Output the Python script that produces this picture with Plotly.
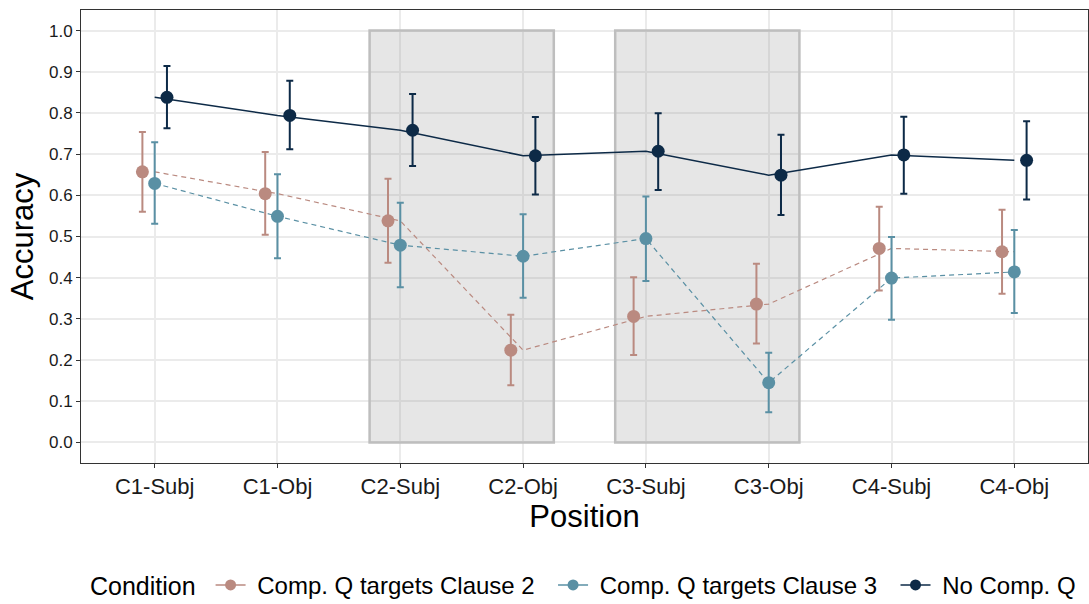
import plotly.graph_objects as go

positions = ["C1-Subj", "C1-Obj", "C2-Subj", "C2-Obj", "C3-Subj", "C3-Obj", "C4-Subj", "C4-Obj"]
conditions = ["Comp. Q targets Clause 2", "Comp. Q targets Clause 3", "No Comp. Q"]

clause2_mean = [0.657, 0.604, 0.538, 0.224, 0.306, 0.336, 0.471, 0.463]
clause2_low = [0.560, 0.504, 0.436, 0.139, 0.212, 0.240, 0.369, 0.361]
clause2_high = [0.754, 0.705, 0.640, 0.310, 0.401, 0.434, 0.572, 0.565]

clause3_mean = [0.629, 0.549, 0.479, 0.452, 0.495, 0.145, 0.399, 0.414]
clause3_low = [0.531, 0.447, 0.377, 0.351, 0.392, 0.073, 0.298, 0.314]
clause3_high = [0.729, 0.651, 0.582, 0.554, 0.597, 0.218, 0.499, 0.516]

nocomp_mean = [0.838, 0.794, 0.758, 0.696, 0.707, 0.649, 0.698, 0.685]
nocomp_low = [0.763, 0.712, 0.671, 0.602, 0.613, 0.552, 0.604, 0.590]
nocomp_high = [0.914, 0.878, 0.846, 0.790, 0.799, 0.747, 0.791, 0.780]

y_ticks = [0.0, 0.1, 0.2, 0.3, 0.4, 0.5, 0.6, 0.7, 0.8, 0.9, 1.0]
highlight_spans = [(2.75, 4.25), (4.75, 6.25)]

colors = ["#BA8A80", "#5A90A4", "#0D2A47"]
dashes = ["5px,4px", "5px,4px", "solid"]
line_widths = [1.2, 1.2, 1.5]
dodge = [-0.1, 0.0, 0.1]

series = [
    (clause2_mean, clause2_low, clause2_high),
    (clause3_mean, clause3_low, clause3_high),
    (nocomp_mean, nocomp_low, nocomp_high),
]

FONT = "Liberation Sans, Arial, Helvetica, sans-serif"
idx = list(range(1, len(positions) + 1))
NBSP = "\u00a0"

fig = go.Figure()

for i, (mean, low, high) in enumerate(series):
    fig.add_trace(go.Scatter(
        x=idx, y=mean, mode="lines",
        line=dict(color=colors[i], width=line_widths[i], dash=dashes[i]),
        showlegend=False, hoverinfo="skip",
    ))

for i, (mean, low, high) in enumerate(series):
    xs = [k + dodge[i] for k in idx]
    fig.add_trace(go.Scatter(
        x=xs, y=mean, mode="markers",
        marker=dict(color=colors[i], size=13),
        error_y=dict(
            type="data", symmetric=False,
            array=[h - m for h, m in zip(high, mean)],
            arrayminus=[m - l for m, l in zip(mean, low)],
            color=colors[i], thickness=2, width=3.5,
        ),
        showlegend=False,
    ))

for i, name in enumerate(conditions):
    fig.add_trace(go.Scatter(
        x=[None], y=[None], mode="lines+markers",
        name=NBSP + name + (NBSP * 2 if i < len(conditions) - 1 else ""),
        line=dict(color=colors[i], width=1.5),
        marker=dict(color=colors[i], size=11),
    ))

for x0, x1 in highlight_spans:
    fig.add_shape(
        type="rect", xref="x", yref="y", x0=x0, x1=x1, y0=0, y1=1,
        fillcolor="rgba(128,128,128,0.2)",
        line=dict(color="#BEBEBE", width=2.5),
        layer="between",
    )

fig.update_layout(
    width=1089, height=604,
    margin=dict(l=81, r=1, t=10, b=141, autoexpand=False),
    paper_bgcolor="white", plot_bgcolor="white",
    font=dict(family=FONT, color="black"),
    legend=dict(
        orientation="h", x=0.5, xanchor="center", y=-0.27, yanchor="middle",
        xref="paper", yref="paper",
        title=dict(text="Condition" + NBSP, font=dict(size=25, color="black")),
        font=dict(size=24, color="black"),
    ),
)

fig.update_xaxes(
    range=[0.4, 8.6], tickvals=idx, ticktext=positions,
    showgrid=True, gridcolor="#EBEBEB", gridwidth=1.5,
    showline=True, linecolor="#333333", linewidth=1, mirror=True,
    ticks="outside", ticklen=4, tickcolor="#333333",
    tickfont=dict(size=22, color="#1a1a1a"),
    title=dict(text="Position", font=dict(size=31, color="black"), standoff=0),
    zeroline=False, automargin=False,
)
fig.update_yaxes(
    range=[-0.05, 1.05], tickvals=y_ticks, ticktext=[f"{v:.1f}" for v in y_ticks],
    showgrid=True, gridcolor="#EBEBEB", gridwidth=1.5,
    showline=True, linecolor="#333333", linewidth=1, mirror=True,
    ticks="outside", ticklen=4, tickcolor="#333333",
    tickfont=dict(size=17, color="#1a1a1a"),
    title=dict(text="Accuracy", font=dict(size=31, color="black"), standoff=6),
    zeroline=False, automargin=False,
)

fig.write_html("out.html")
